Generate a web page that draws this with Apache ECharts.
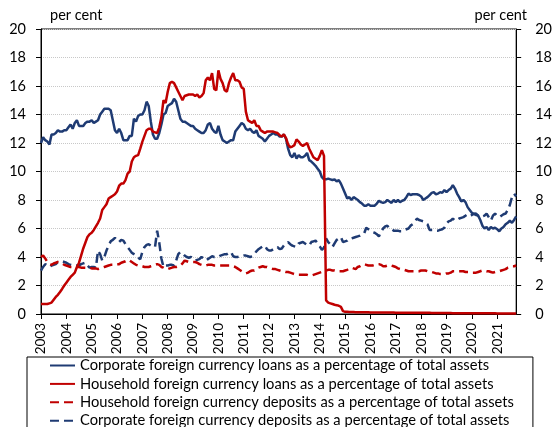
<!DOCTYPE html>
<html>
<head>
<meta charset="utf-8">
<script src="https://cdn.jsdelivr.net/npm/echarts@6/dist/echarts.min.js"></script>
<style>
html,body{margin:0;padding:0;background:#fff;}
#chart{width:555px;height:427px;}
</style>
</head>
<body>
<div id="chart"></div>
<script>
// Monthly data, January 2003 – October 2021 (per cent)
var startYear = 2003;
var yTicks = [0, 2, 4, 6, 8, 10, 12, 14, 16, 18, 20];

var seriesNames = [
  'Corporate foreign currency loans as a percentage of total assets',
  'Household foreign currency loans as a percentage of total assets',
  'Household foreign currency deposits as a percentage of total assets',
  'Corporate foreign currency deposits as a percentage of total assets'
];

var corpLoans = [
  12.0, 12.4, 12.2, 12.1, 11.9, 12.6, 12.6, 12.7, 12.9, 12.8, 12.8, 12.9,
  12.9, 13.1, 13.3, 13.0, 13.4, 13.6, 13.2, 13.2, 13.2, 13.4, 13.5, 13.5,
  13.6, 13.4, 13.5, 13.6, 14.0, 14.2, 14.4, 14.4, 14.4, 14.3, 13.6, 12.9,
  12.7, 13.0, 12.7, 12.2, 12.2, 12.2, 12.5, 12.5, 13.7, 13.5, 13.9, 14.0,
  14.0, 14.3, 14.9, 14.6, 13.5, 12.6, 12.3, 12.3, 12.7, 13.3, 14.0, 14.1,
  14.6, 14.7, 14.8, 15.1, 14.9, 14.3, 13.7, 13.5, 13.5, 13.4, 13.3, 13.2,
  13.2, 13.0, 12.9, 12.8, 12.7, 12.7, 12.9, 13.3, 13.4, 13.0, 12.8, 12.7,
  13.2, 12.6, 12.2, 12.1, 12.0, 12.1, 12.2, 12.2, 12.8, 13.0, 13.2, 13.4,
  13.3, 13.0, 12.9, 13.0, 12.8, 12.7, 12.9, 12.5, 12.4, 12.3, 12.1, 12.3,
  12.5, 12.6, 12.7, 12.6, 12.6, 12.45, 12.45, 12.6, 12.3, 11.6, 11.15, 11.0,
  11.3, 10.9, 11.15, 11.0, 11.0, 11.1, 11.3, 10.8, 10.7, 10.55, 10.4, 10.2,
  10.0, 9.6, 9.45, 9.45, 9.5, 9.45, 9.4, 9.45, 9.3, 9.4, 9.15, 8.8,
  8.45, 8.1, 8.2, 8.0, 8.2, 8.1, 8.0, 7.85, 7.75, 7.6, 7.6, 7.7,
  7.6, 7.6, 7.6, 7.75, 7.95, 7.85, 7.8, 7.85, 8.0, 7.9, 7.8, 8.0,
  7.85, 8.0, 7.85, 7.95, 8.0, 8.2, 8.45, 8.35, 8.4, 8.4, 8.4, 8.35,
  8.25, 8.0, 8.1, 8.2, 8.35, 8.5, 8.55, 8.4, 8.45, 8.55, 8.5, 8.7,
  8.55, 8.7, 8.8, 9.05, 8.8, 8.45, 8.2, 7.9, 8.0, 7.85, 7.5, 7.3,
  7.1, 7.0, 7.05, 6.9, 6.6, 6.2, 6.0, 6.1, 5.9, 6.1, 6.0, 6.05,
  5.95, 5.8, 6.0, 6.1, 6.3, 6.4, 6.55, 6.4, 6.6, 6.85
];

var hhLoans = [
  0.7, 0.7, 0.7, 0.7, 0.75, 0.8, 1.0, 1.2, 1.35, 1.55, 1.76, 2.0,
  2.2, 2.4, 2.6, 2.75, 2.9, 3.3, 3.6, 4.1, 4.6, 5.0, 5.4, 5.6,
  5.7, 5.9, 6.15, 6.4, 6.7, 7.3, 7.5, 7.7, 8.1, 8.2, 8.3, 8.4,
  8.6, 9.0, 9.15, 9.15, 9.4, 9.85, 10.0, 10.7, 11.0, 11.1, 11.15, 11.6,
  12.1, 12.5, 12.9, 13.0, 13.0, 12.8, 12.75, 12.7, 13.1, 13.8, 15.0, 14.8,
  15.6, 16.2, 16.3, 16.2, 15.9, 15.6, 15.3, 15.0, 15.3, 15.35, 15.4, 15.4,
  15.4, 15.3, 15.4, 15.2, 15.3, 15.5, 16.4, 16.6, 16.4, 16.9, 15.8, 15.7,
  17.1, 16.5, 16.2, 15.7, 15.6, 16.2, 16.6, 16.9, 16.4, 16.4, 16.3, 15.9,
  15.8, 14.2, 13.6, 13.5, 13.4, 13.6, 13.2, 13.2, 12.9, 12.8, 12.7, 12.8,
  12.8, 12.8, 12.8, 12.75, 12.7, 12.55, 12.45, 12.6, 12.35, 11.9, 11.7, 11.75,
  11.85, 12.25, 12.1, 11.9, 11.8, 11.9, 12.0, 11.6, 11.3, 11.0, 10.9, 10.8,
  11.1, 11.5, 11.1, 0.95, 0.8, 0.75, 0.7, 0.65, 0.62, 0.58, 0.5, 0.2,
  0.15, 0.15, 0.14, 0.14, 0.14, 0.13, 0.13, 0.13, 0.12, 0.12, 0.12, 0.12,
  0.11, 0.11, 0.11, 0.11, 0.1, 0.1, 0.1, 0.1, 0.1, 0.1, 0.1, 0.1,
  0.09, 0.09, 0.09, 0.09, 0.09, 0.09, 0.09, 0.09, 0.08, 0.08, 0.08, 0.08,
  0.08, 0.08, 0.08, 0.08, 0.08, 0.07, 0.07, 0.07, 0.07, 0.07, 0.07, 0.07,
  0.07, 0.07, 0.07, 0.06, 0.06, 0.06, 0.06, 0.06, 0.06, 0.06, 0.06, 0.06,
  0.06, 0.05, 0.05, 0.05, 0.05, 0.05, 0.05, 0.05, 0.05, 0.05, 0.05, 0.05,
  0.04, 0.04, 0.04, 0.04, 0.04, 0.04, 0.04, 0.04, 0.04, 0.04
];

var hhDeposits = [
  4.0, 4.1, 3.9, 3.65, 3.5, 3.45, 3.55, 3.6, 3.65, 3.6, 3.55, 3.45,
  3.4, 3.35, 3.3, 3.3, 3.3, 3.3, 3.3, 3.25, 3.25, 3.25, 3.25, 3.25,
  3.2, 3.2, 3.2, 3.15, 3.2, 3.25, 3.3, 3.35, 3.4, 3.45, 3.45, 3.45,
  3.5, 3.5, 3.6, 3.65, 3.7, 3.8, 3.75, 3.65, 3.55, 3.45, 3.4, 3.35,
  3.35, 3.3, 3.3, 3.3, 3.35, 3.4, 3.45, 3.5, 3.45, 3.3, 3.25, 3.15,
  3.15, 3.2, 3.25, 3.3, 3.3, 3.35, 3.4, 3.55, 3.75, 3.7, 3.65, 3.65,
  3.65, 3.65, 3.6, 3.5, 3.45, 3.4, 3.4, 3.45, 3.45, 3.45, 3.4, 3.4,
  3.4, 3.4, 3.4, 3.4, 3.4, 3.4, 3.4, 3.35, 3.3, 3.2, 3.1, 3.0,
  2.95, 2.85, 2.9, 3.0, 3.05, 3.05, 3.15, 3.25, 3.3, 3.35, 3.3, 3.3,
  3.25, 3.2, 3.15, 3.15, 3.1, 3.05, 3.0, 3.0, 2.95, 2.95, 2.9, 2.85,
  2.8, 2.8, 2.75, 2.75, 2.75, 2.75, 2.75, 2.7, 2.7, 2.75, 2.8, 2.85,
  2.9, 2.95, 3.0, 3.05, 3.1, 3.1, 3.05, 3.05, 3.0, 3.0, 3.0, 3.0,
  3.05, 3.1, 3.2, 3.25, 3.2, 3.15, 3.3, 3.35, 3.45, 3.5, 3.45, 3.4,
  3.4, 3.4, 3.45, 3.5, 3.5, 3.45, 3.35, 3.35, 3.4, 3.45, 3.4, 3.35,
  3.3, 3.2, 3.15, 3.1, 3.1, 3.05, 3.0, 3.0, 3.0, 3.0, 3.0, 3.0,
  3.05, 3.05, 3.05, 3.0, 2.95, 2.95, 2.9, 2.85, 2.85, 2.8, 2.8, 2.8,
  2.85, 2.85, 2.9, 3.0, 3.0, 3.0, 3.0, 3.0, 3.0, 2.95, 2.95, 2.95,
  2.9, 2.9, 2.9, 2.95, 3.0, 3.05, 3.05, 3.0, 3.0, 2.95, 2.9, 2.95,
  3.0, 3.0, 3.05, 3.1, 3.15, 3.25, 3.3, 3.35, 3.35, 3.4
];

var corpDeposits = [
  3.05, 3.3, 3.5, 3.4, 3.3, 3.4, 3.45, 3.5, 3.65, 3.7, 3.7, 3.65,
  3.6, 3.5, 3.45, 3.4, 3.4, 3.4, 3.4, 3.5, 3.55, 3.6, 3.4, 3.25,
  3.3, 3.3, 3.25, 4.45, 4.2, 3.75, 4.0, 4.45, 4.8, 5.1, 5.2, 5.35,
  5.15, 5.05, 5.2, 5.15, 4.9, 4.7, 4.5, 4.3, 4.2, 4.05, 3.95, 3.85,
  4.35, 4.7, 4.85, 4.9, 4.8, 4.75, 4.7, 5.85, 5.0, 3.9, 3.3, 3.4,
  3.4, 3.45, 3.45, 3.4, 3.75, 4.2, 4.35, 4.25, 4.1, 4.0, 3.95, 4.0,
  3.85, 3.75, 3.8, 3.85, 4.0, 3.9, 3.75, 3.85, 3.95, 4.05, 4.0, 4.0,
  4.0, 4.1, 4.15, 4.2, 4.2, 4.3, 4.35, 4.05, 4.0, 4.0, 4.05, 4.05,
  4.1, 4.1, 4.05, 4.0, 4.05, 4.2, 4.4, 4.55, 4.65, 4.75, 4.8, 4.55,
  4.45, 4.45, 4.55, 4.6, 4.7, 4.55, 4.6, 4.8, 4.95, 5.05, 4.9, 4.8,
  4.75, 4.7, 4.95, 5.0, 5.05, 4.95, 4.85, 4.8, 5.05, 5.1, 5.15, 4.95,
  4.75, 4.5, 4.65, 5.3, 5.05, 4.9, 4.7, 4.95, 5.2, 5.3, 5.4, 5.05,
  5.1, 5.15, 5.3, 5.3, 5.35, 5.4, 5.45, 5.5, 5.6, 5.65, 6.05, 5.95,
  5.85, 5.75, 5.7, 5.6, 5.45, 5.75, 6.0, 6.15, 6.2, 6.0, 5.95, 5.85,
  5.85, 5.85, 5.8, 5.8, 5.9, 5.95, 6.0, 6.2, 6.3, 6.45, 6.7, 6.6,
  6.55, 6.5, 6.4, 6.3, 5.9, 5.9, 5.9, 5.85, 5.85, 5.9, 5.95, 6.05,
  6.35, 6.5, 6.55, 6.7, 6.55, 6.6, 6.7, 6.75, 6.8, 6.9, 7.0, 6.9,
  6.95, 7.05, 6.95, 6.9, 6.8, 6.85, 6.9, 7.05, 6.8, 6.55, 6.9, 7.05,
  6.9, 6.8, 6.9, 7.0, 7.05, 7.3, 7.65, 8.2, 8.45, 8.25
];

// month categories
var categories = [];
for (var i = 0; i < corpLoans.length; i++) {
  var y = startYear + Math.floor(i / 12);
  var m = (i % 12) + 1;
  categories.push(y + '-' + (m < 10 ? '0' + m : m));
}

var FONT = 'Lato';
var BLUE = '#1F3B73';
var RED = '#C00000';
var DASH = [9, 5];
var yearOnly = function (idx) { return idx % 12 === 0; };

var yAxisCommon = {
  type: 'value', min: yTicks[0], max: yTicks[yTicks.length - 1], interval: 2,
  axisLine: { show: true, lineStyle: { color: '#000', width: 1 } },
  axisTick: { show: true, length: 5, lineStyle: { color: '#000' } },
  axisLabel: { color: '#000', fontFamily: FONT, fontSize: 14.5 }
};

var chart = echarts.init(document.getElementById('chart'), null, { renderer: 'canvas' });
chart.setOption({
  animation: false,
  backgroundColor: '#fff',
  grid: { left: 41, right: 33, top: 29, bottom: 113, show: true, borderColor: '#000', borderWidth: 1, containLabel: false },
  graphic: [
    { type: 'text', left: 50, top: 8, style: { text: 'per cent', font: '14.5px Lato', fill: '#000' } },
    { type: 'text', right: 28, top: 8, style: { text: 'per cent', font: '14.5px Lato', fill: '#000' } }
  ],
  legend: {
    orient: 'vertical',
    left: 27, top: 357, height: 90,
    padding: [1, 19, 20, 22],
    itemWidth: 25, itemHeight: 14, itemGap: 3.4,
    borderColor: '#000', borderWidth: 1,
    itemStyle: { opacity: 0 },
    textStyle: { color: '#000', fontFamily: FONT, fontSize: 14.7 },
    data: seriesNames
  },
  xAxis: {
    type: 'category', data: categories, boundaryGap: false,
    axisLine: { show: true, lineStyle: { color: '#000', width: 1 } },
    axisTick: { show: true, interval: yearOnly, length: 5, lineStyle: { color: '#000' } },
    axisLabel: {
      interval: yearOnly, rotate: 90, margin: 9, color: '#000', fontFamily: FONT, fontSize: 13.5,
      formatter: function (v) { return v.slice(0, 4); }
    },
    splitLine: { show: false }
  },
  yAxis: [
    Object.assign({}, yAxisCommon, { position: 'left', axisLabel: Object.assign({}, yAxisCommon.axisLabel, { margin: 15 }),
      splitLine: { show: true, lineStyle: { color: '#c8c8c8', type: 'dotted', width: 1 } } }),
    Object.assign({}, yAxisCommon, { position: 'right', axisLabel: Object.assign({}, yAxisCommon.axisLabel, { margin: 19 }),
      splitLine: { show: false } })
  ],
  series: [
    { name: seriesNames[3], type: 'line', data: corpDeposits, showSymbol: false, symbol: 'none',
      lineStyle: { color: BLUE, width: 2.5, type: DASH }, itemStyle: { color: BLUE } },
    { name: seriesNames[2], type: 'line', data: hhDeposits, showSymbol: false, symbol: 'none',
      lineStyle: { color: RED, width: 2.5, type: DASH }, itemStyle: { color: RED } },
    { name: seriesNames[0], type: 'line', data: corpLoans, showSymbol: false, symbol: 'none',
      lineStyle: { color: BLUE, width: 2.5 }, itemStyle: { color: BLUE } },
    { name: seriesNames[1], type: 'line', data: hhLoans, showSymbol: false, symbol: 'none',
      lineStyle: { color: RED, width: 2.5 }, itemStyle: { color: RED } }
  ]
});
</script>
</body>
</html>
